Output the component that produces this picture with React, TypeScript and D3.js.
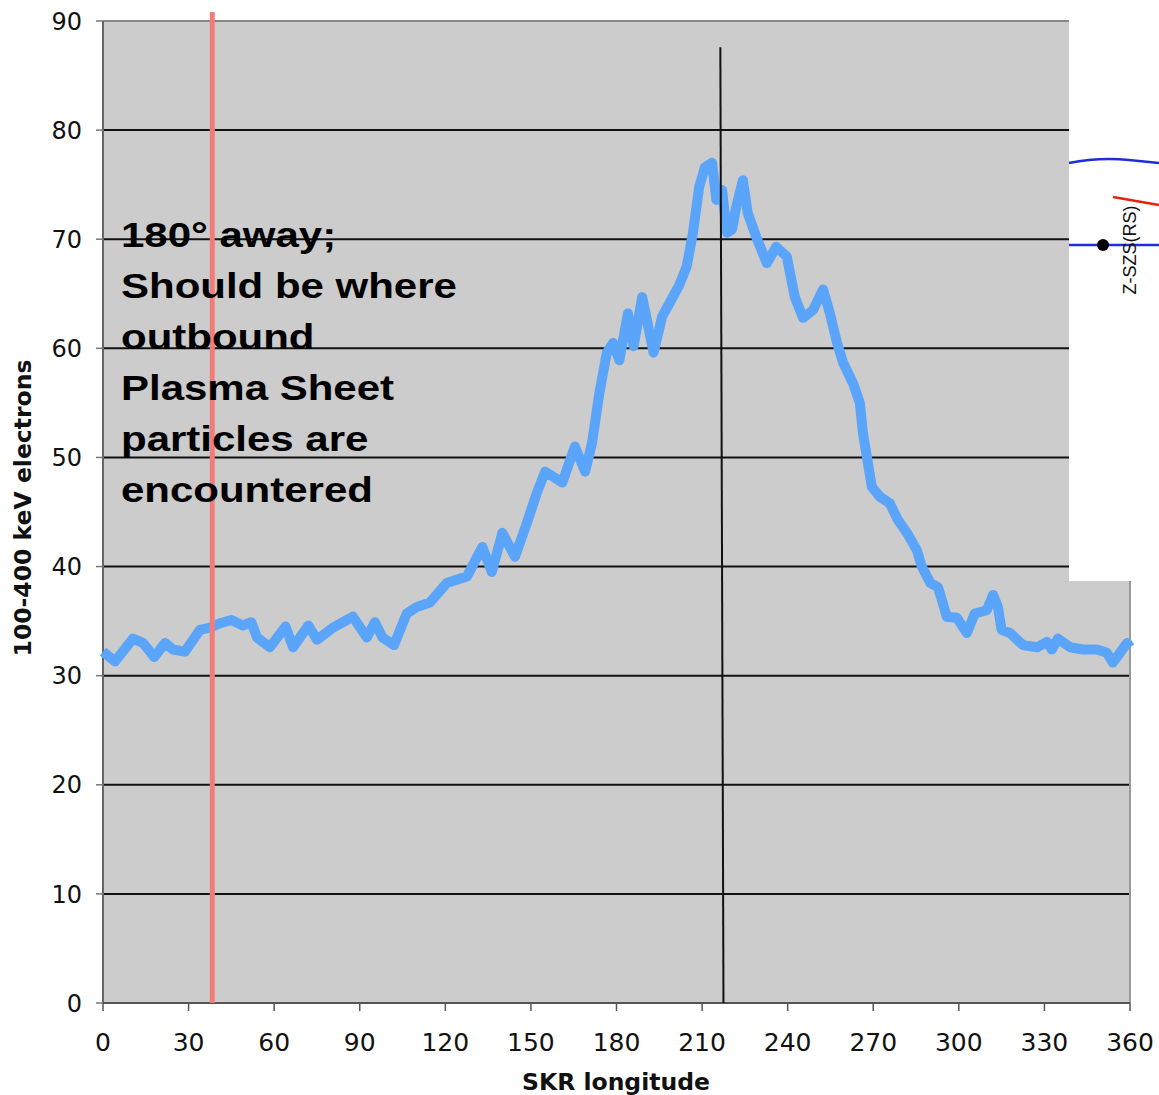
import React from "react";
import * as d3 from "d3";

// SKR longitude (deg) and 100-400 keV electron counts
const longitudes = [
  0, 4.2, 10.5, 14, 18, 21.7, 24.5, 28.7, 34, 37.5, 41, 45, 49, 52, 54, 58.5,
  64, 66.6, 72, 75, 80.6, 87.6, 92.5, 95.3, 98, 102, 106.5, 110, 114.6, 120.5,
  127.6, 133, 136.3, 140, 144.4, 148.6, 152, 155, 161, 165.4, 169, 171.4, 174,
  176.6, 178.8, 181, 184, 186, 189, 193, 196, 198.7, 202, 204.6, 206.8, 209,
  211, 213.5, 215, 217, 218.7, 220.5, 222, 224.3, 226, 229, 232.7, 236, 239.7,
  242.5, 245.4, 248.9, 252.4, 254.8, 257.3, 259.4, 262.9, 265.3, 266.4, 267.8,
  269.5, 272.3, 275.8, 278.6, 282, 285.3, 287, 290, 292.7, 295.8, 299.3, 302.8,
  305.6, 309.8, 312, 313.7, 315, 318, 322.5, 327.4, 330.9, 332.6, 334.7, 339,
  343.5, 348.4, 351.9, 354, 356.5, 359, 360,
];
const electrons = [
  32.2, 31.3, 33.4, 33.0, 31.7, 33.0, 32.4, 32.2, 34.2, 34.4, 34.8, 35.1, 34.6,
  34.9, 33.5, 32.6, 34.5, 32.6, 34.6, 33.3, 34.4, 35.4, 33.5, 34.9, 33.5, 32.8,
  35.7, 36.3, 36.7, 38.5, 39.1, 41.8, 39.5, 43.1, 40.9, 44.0, 46.7, 48.7, 47.7,
  51, 48.7, 51.3, 55.9, 59.6, 60.5, 58.9, 63.2, 60.2, 64.7, 59.6, 62.9, 64.2,
  65.8, 67.5, 70.6, 74.8, 76.6, 77, 73.6, 74.5, 70.6, 70.9, 73, 75.4, 72.4,
  70.2, 67.8, 69.3, 68.4, 64.7, 62.8, 63.5, 65.4, 63.2, 60.5, 58.7, 56.8, 55,
  52.2, 50, 47.3, 46.4, 45.8, 44.3, 43, 41.5, 40, 38.5, 38.1, 35.4, 35.3, 33.9,
  35.7, 36, 37.4, 36.3, 34.2, 33.9, 32.8, 32.6, 33.1, 32.4, 33.4, 32.6, 32.4,
  32.4, 32.1, 31.2, 32.1, 33, 32.6,
];

const xTicks = [0, 30, 60, 90, 120, 150, 180, 210, 240, 270, 300, 330, 360];
const yTicks = [0, 10, 20, 30, 40, 50, 60, 70, 80, 90];

// reference markers
const redMarkerLon = 38.3;
const blackMarker = [
  [216.4, 87.6],
  [217.5, 0],
];

const noteLines = [
  "180° away;",
  "Should be where",
  "outbound",
  "Plasma Sheet",
  "particles are",
  "encountered",
];

const App = () => {
  const width = 1159;
  const height = 1095;
  const margin = { top: 21, right: 29, bottom: 92, left: 103 };

  const x = d3
    .scaleLinear()
    .domain([0, 360])
    .range([margin.left, width - margin.right]);
  const y = d3
    .scaleLinear()
    .domain([0, 90])
    .range([height - margin.bottom, margin.top]);

  const pts = longitudes.map((d, i) => [d, electrons[i]] as [number, number]);
  const line = d3
    .line<[number, number]>()
    .x((d) => x(d[0]))
    .y((d) => y(d[1]));

  const tickFont = "'DejaVu Sans', Verdana, sans-serif";
  const x0 = x(0);
  const x1 = x(360);
  const y0 = y(0);
  const y1 = y(90);

  return (
    <svg
      width={width}
      height={height}
      style={{ position: "absolute", left: 0, top: 0, background: "#fff" }}
    >
      <rect x={x0} y={y1} width={x1 - x0} height={y0 - y1} fill="#cccccc" />

      {/* gridlines */}
      {yTicks
        .filter((t) => t > 0 && t < 90)
        .map((t) => (
          <line
            key={"g" + t}
            x1={x0}
            x2={x1}
            y1={y(t)}
            y2={y(t)}
            stroke="#111"
            strokeWidth={2}
          />
        ))}

      {/* frame */}
      <line x1={x0} x2={x1} y1={y1} y2={y1} stroke="#888" strokeWidth={2} />
      <line x1={x1} x2={x1} y1={y1} y2={y0} stroke="#999" strokeWidth={2} />
      <line x1={x0} x2={x0} y1={y1} y2={y0} stroke="#666" strokeWidth={2} />
      <line x1={x0} x2={x1} y1={y0} y2={y0} stroke="#555" strokeWidth={2} />

      {/* y ticks */}
      {yTicks.map((t) => (
        <g key={"y" + t}>
          <line x1={x0 - 7} x2={x0} y1={y(t)} y2={y(t)} stroke="#777" strokeWidth={1.5} />
          <text
            x={x0 - 21}
            y={y(t)}
            dy="0.36em"
            textAnchor="end"
            fontFamily={tickFont}
            fontSize={24}
            fill="#111"
          >
            {t}
          </text>
        </g>
      ))}

      {/* x ticks */}
      {xTicks.map((t) => (
        <g key={"x" + t}>
          <line x1={x(t)} x2={x(t)} y1={y0} y2={y0 + 8} stroke="#555" strokeWidth={1.5} />
          <text
            x={x(t)}
            y={y0 + 48}
            textAnchor="middle"
            fontFamily={tickFont}
            fontSize={25}
            fill="#111"
          >
            {t}
          </text>
        </g>
      ))}

      {/* axis titles */}
      <text
        x={616}
        y={1090}
        textAnchor="middle"
        fontFamily={tickFont}
        fontWeight="bold"
        fontSize={23.5}
        fill="#111"
      >
        SKR longitude
      </text>
      <text
        transform={`translate(31,508) rotate(-90)`}
        textAnchor="middle"
        fontFamily={tickFont}
        fontWeight="bold"
        fontSize={23.5}
        fill="#111"
      >
        100-400 keV electrons
      </text>

      {/* data */}
      <path
        d={line(pts) || ""}
        fill="none"
        stroke="#5aa5fa"
        strokeWidth={10}
        strokeLinejoin="round"
      />

      {/* vertical markers */}
      <line
        x1={x(blackMarker[0][0])}
        y1={y(blackMarker[0][1])}
        x2={x(blackMarker[1][0])}
        y2={y(blackMarker[1][1])}
        stroke="#111"
        strokeWidth={2}
      />
      <line
        x1={x(redMarkerLon)}
        x2={x(redMarkerLon)}
        y1={12}
        y2={y0}
        stroke="#f47c76"
        strokeWidth={5}
      />

      {/* note */}
      <g transform={`translate(${x0 + 18},0) scale(1.2,1)`}>
        {noteLines.map((s, i) => (
          <text
            key={s}
            x={0}
            y={247 + i * 51}
            fontFamily="'Liberation Sans', Arial, sans-serif"
            fontWeight="bold"
            fontSize={35}
            fill="#000"
          >
            {s}
          </text>
        ))}
      </g>

      {/* pasted figure fragment on the right */}
      <g transform="translate(1069,0)">
        <rect x={0} y={0} width={90} height={581} fill="#fff" />
        <path
          d="M0,163 Q30,157 60,160 T90,163"
          fill="none"
          stroke="#1f2ed8"
          strokeWidth={2.5}
        />
        <line x1={0} x2={90} y1={245} y2={245} stroke="#1f2ed8" strokeWidth={2.5} />
        <circle cx={34} cy={245} r={6} fill="#000" />
        <line x1={44} y1={197} x2={90} y2={205} stroke="#e8200c" strokeWidth={2.5} />
        <text
          transform="translate(67,250) rotate(-90)"
          textAnchor="middle"
          fontFamily="'Liberation Sans', Arial, sans-serif"
          fontSize={18}
          fill="#111"
        >
          Z-SZS(RS)
        </text>
      </g>
    </svg>
  );
};

export default App;
